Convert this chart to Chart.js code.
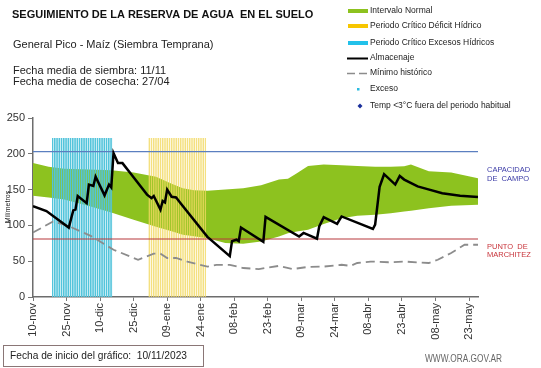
<!DOCTYPE html>
<html lang="es">
<head>
<meta charset="UTF-8">
<title>Reserva de agua en el suelo</title>
<script src="https://cdn.jsdelivr.net/npm/chart.js"></script>
<style>
  html, body { margin: 0; padding: 0; background: #fff; }
</style>
</head>
<body>
<canvas id="reserva" width="541" height="368"></canvas>
<script>
// dias contados desde el 10-nov (dia 0)
const diasTicks = [0, 15, 30, 45, 60, 75, 90, 105, 120, 135, 150, 165, 180, 195];
const etiquetasTicks = ['10-nov', '25-nov', '10-dic', '25-dic', '09-ene', '24-ene', '08-feb',
  '23-feb', '09-mar', '24-mar', '08-abr', '23-abr', '08-may', '23-may'];

// intervalo normal (banda verde)
const bandaDias = [0, 7, 14, 25, 35, 45, 55, 62, 67, 72, 78, 86, 94, 102, 110, 114, 118, 123,
  130, 138, 145, 153, 160, 166, 169, 177, 187, 199];
const bandaSuperior = [187, 182, 179, 178, 177, 174, 168, 158, 152, 149, 148.5, 150, 152, 156,
  164, 165, 173, 183, 185, 184, 183, 182, 182, 182.5, 185, 175.5, 174, 166];
const bandaInferior = [141.5, 139, 136, 127, 118, 108, 98, 92, 87, 85, 82, 75.5, 74.5, 77.5,
  84.5, 89, 91.5, 94, 102, 110, 113.5, 115, 117, 119.5, 120.5, 124, 127.5, 129];

// almacenaje
const almacenajeDias = [0, 6, 16, 18, 19, 20, 24, 25, 27, 28, 32, 34, 35, 36, 38, 40, 44, 51, 53,
  54, 57, 58, 59, 60, 62, 64, 66, 78, 88, 89, 91, 92, 93, 103, 104, 119, 121, 127, 128, 130, 136,
  138, 152, 153, 155, 157, 162, 164, 166, 172, 176, 183, 191, 199];
const almacenajeMm = [127, 120, 97, 121, 122, 141, 131, 157, 155, 168, 142, 157, 153, 201, 187,
  187, 171, 143, 138, 141, 122, 134, 132, 150, 140, 139, 131, 84, 57, 78, 80, 78, 97, 77, 112,
  84.5, 89.5, 81.5, 98.5, 111.5, 102, 112.5, 95, 101, 154, 171.5, 157, 169, 164, 154.5, 151,
  145, 141.5, 139.5];

// minimo historico
const minimoDias = [0, 9, 16, 26, 36, 47, 54, 57, 60, 64, 69, 78, 82, 88, 94, 101, 110, 116, 123,
  130, 138, 142, 145, 151, 159, 166, 177, 181, 187, 193, 199];
const minimoMm = [90, 105.5, 99, 85, 66, 52, 60.5, 60.5, 54.5, 54.5, 49.5, 42.5, 45, 45, 40.5, 39,
  43.5, 39, 42, 42.5, 45, 43.5, 47.5, 49.5, 48.5, 49.5, 47.5, 52, 61.5, 73, 73];

// periodos criticos (primer y ultimo dia)
const periodoExcesos = [9, 35];
const periodoDeficit = [52, 77];
const alturaPeriodo = 222;

const capacidadCampo = 203;
const puntoMarchitez = 81;
const diaFinal = 199;

const pts = (xs, ys) => xs.map((x, i) => ({ x: x, y: ys[i] }));
const periodo = p => [{ x: p[0] - 0.5, y: alturaPeriodo }, { x: p[1] + 0.5, y: alturaPeriodo }];
const horizontal = v => [{ x: 0, y: v }, { x: diaFinal, y: v }];

// rayado vertical de los periodos
function rayas(color, ancho) {
  const c = document.createElement('canvas');
  c.width = 9; c.height = 4;
  const g = c.getContext('2d');
  g.fillStyle = color;
  for (let i = 0; i < 4; i++) g.fillRect(i * 2.25, 0, ancho, 4);
  return g.createPattern(c, 'repeat');
}

const FONT = 'Liberation Sans, Arial, sans-serif';

function texto(ctx, str, x, y, font, color, maxW) {
  ctx.font = font;
  ctx.fillStyle = color;
  const w = ctx.measureText(str).width;
  ctx.save();
  ctx.translate(x, y);
  if (maxW && w > maxW) ctx.scale(maxW / w, 1);
  ctx.fillText(str, 0, 0);
  ctx.restore();
}

const decorado = {
  id: 'decorado',
  afterDraw(chart) {
    const ctx = chart.ctx;
    ctx.save();
    ctx.textBaseline = 'middle';
    ctx.textAlign = 'left';

    // encabezado
    texto(ctx, 'SEGUIMIENTO DE LA RESERVA DE AGUA  EN EL SUELO', 12, 15, 'bold 11px ' + FONT, '#111');
    texto(ctx, 'General Pico - Maíz (Siembra Temprana)', 13, 45, '11px ' + FONT, '#222');
    texto(ctx, 'Fecha media de siembra: 11/11', 13, 71, '11px ' + FONT, '#222');
    texto(ctx, 'Fecha media de cosecha: 27/04', 13, 82, '11px ' + FONT, '#222');

    // leyenda
    const lx = 348, tx = 370, lf = '8.5px ' + FONT;
    ctx.fillStyle = '#8dc21f'; ctx.fillRect(lx, 9, 20, 4);
    texto(ctx, 'Intervalo Normal', tx, 11, lf, '#222');
    ctx.fillStyle = '#f7c600'; ctx.fillRect(lx, 24, 20, 4);
    texto(ctx, 'Periodo Crítico Déficit Hídrico', tx, 26, lf, '#222');
    ctx.fillStyle = '#22c1ea'; ctx.fillRect(lx, 41, 20, 4);
    texto(ctx, 'Periodo Crítico Excesos Hídricos', tx, 43, lf, '#222');
    ctx.strokeStyle = '#000'; ctx.lineWidth = 2;
    ctx.beginPath(); ctx.moveTo(347, 58.5); ctx.lineTo(368, 58.5); ctx.stroke();
    texto(ctx, 'Almacenaje', tx, 58, lf, '#222');
    ctx.strokeStyle = '#8c8c8c'; ctx.lineWidth = 1.5; ctx.setLineDash([8, 4]);
    ctx.beginPath(); ctx.moveTo(347, 73.5); ctx.lineTo(368, 73.5); ctx.stroke();
    ctx.setLineDash([]);
    texto(ctx, 'Mínimo histórico', tx, 73, lf, '#222');
    ctx.fillStyle = '#2bbbe0'; ctx.fillRect(357, 88, 2.5, 2.5);
    texto(ctx, 'Exceso', tx, 89, lf, '#222');
    ctx.fillStyle = '#1a2f9b';
    ctx.beginPath(); ctx.moveTo(360, 103.5); ctx.lineTo(362.5, 106); ctx.lineTo(360, 108.5);
    ctx.lineTo(357.5, 106); ctx.closePath(); ctx.fill();
    texto(ctx, 'Temp <3°C fuera del periodo habitual', tx, 106, lf, '#222');

    // rotulos de las lineas de referencia
    const rf = '7.5px ' + FONT;
    texto(ctx, 'CAPACIDAD', 487, 170, rf, '#3a3aa6');
    texto(ctx, 'DE  CAMPO', 487, 179, rf, '#3a3aa6');
    texto(ctx, 'PUNTO  DE', 487, 247, rf, '#c8343b');
    texto(ctx, 'MARCHITEZ', 487, 255, rf, '#c8343b');

    // titulo del eje y
    ctx.save();
    ctx.translate(8, 207);
    ctx.rotate(-Math.PI / 2);
    ctx.textAlign = 'center';
    ctx.font = '7px ' + FONT;
    ctx.fillStyle = '#222';
    ctx.fillText('Milímetros', 0, 0);
    ctx.restore();

    // pie
    ctx.strokeStyle = '#8a7676'; ctx.lineWidth = 1;
    ctx.strokeRect(3.5, 345.5, 200, 21);
    texto(ctx, 'Fecha de inicio del gráfico:  10/11/2023', 10, 356, '11px ' + FONT, '#222', 177);
    texto(ctx, 'WWW.ORA.GOV.AR', 425, 359, '10px ' + FONT, '#666', 77);
    ctx.restore();
  }
};

const lineaBase = { pointRadius: 0, pointHoverRadius: 0, tension: 0, fill: false };

new Chart(document.getElementById('reserva'), {
  type: 'line',
  data: {
    datasets: [
      Object.assign({}, lineaBase, {
        label: 'Intervalo inferior', data: pts(bandaDias, bandaInferior),
        borderColor: 'transparent', borderWidth: 0, order: 10
      }),
      Object.assign({}, lineaBase, {
        label: 'Intervalo Normal', data: pts(bandaDias, bandaSuperior),
        borderColor: 'transparent', borderWidth: 0, backgroundColor: '#8dc21f', fill: '-1', order: 10
      }),
      Object.assign({}, lineaBase, {
        label: 'Periodo Crítico Excesos Hídricos', data: periodo(periodoExcesos),
        borderColor: 'transparent', borderWidth: 0, backgroundColor: rayas('#52c4db', 1.6),
        fill: 'origin', order: 5
      }),
      Object.assign({}, lineaBase, {
        label: 'Periodo Crítico Déficit Hídrico', data: periodo(periodoDeficit),
        borderColor: 'transparent', borderWidth: 0, backgroundColor: rayas('rgba(241,216,96,0.8)', 1.5),
        fill: 'origin', order: 5
      }),
      Object.assign({}, lineaBase, {
        label: 'Capacidad de campo', data: horizontal(capacidadCampo),
        borderColor: '#5b7fc0', borderWidth: 1.2, order: 3
      }),
      Object.assign({}, lineaBase, {
        label: 'Punto de marchitez', data: horizontal(puntoMarchitez),
        borderColor: '#b8393d', borderWidth: 1.2, order: 3
      }),
      Object.assign({}, lineaBase, {
        label: 'Mínimo histórico', data: pts(minimoDias, minimoMm),
        borderColor: '#8c8c8c', borderWidth: 1.8, borderDash: [9, 5], order: 2
      }),
      Object.assign({}, lineaBase, {
        label: 'Almacenaje', data: pts(almacenajeDias, almacenajeMm),
        borderColor: '#000', borderWidth: 2.5, order: 1
      })
    ]
  },
  options: {
    responsive: false,
    animation: false,
    layout: { padding: { left: 0, right: 63, top: 118, bottom: 0 } },
    plugins: { legend: { display: false }, tooltip: { enabled: false } },
    scales: {
      x: {
        type: 'linear', min: 0, max: diaFinal,
        afterBuildTicks: s => { s.ticks = diasTicks.map(v => ({ value: v })); },
        afterFit: s => { s.height = 71; },
        grid: { drawOnChartArea: false, drawTicks: true, tickLength: 4, color: '#777' },
        border: { color: '#6d6d6d', width: 1.5 },
        ticks: {
          autoSkip: false, minRotation: 90, maxRotation: 90, padding: 2, color: '#333',
          font: { family: FONT, size: 11 },
          callback: (v, i) => etiquetasTicks[i]
        }
      },
      y: {
        min: 0, max: 250,
        afterFit: s => { s.width = 33; },
        grid: { drawOnChartArea: false, drawTicks: true, tickLength: 5, color: '#777' },
        border: { color: '#6d6d6d', width: 1.5 },
        ticks: { stepSize: 50, padding: 3, color: '#333', font: { family: FONT, size: 11 } }
      }
    }
  },
  plugins: [decorado]
});
</script>
</body>
</html>
